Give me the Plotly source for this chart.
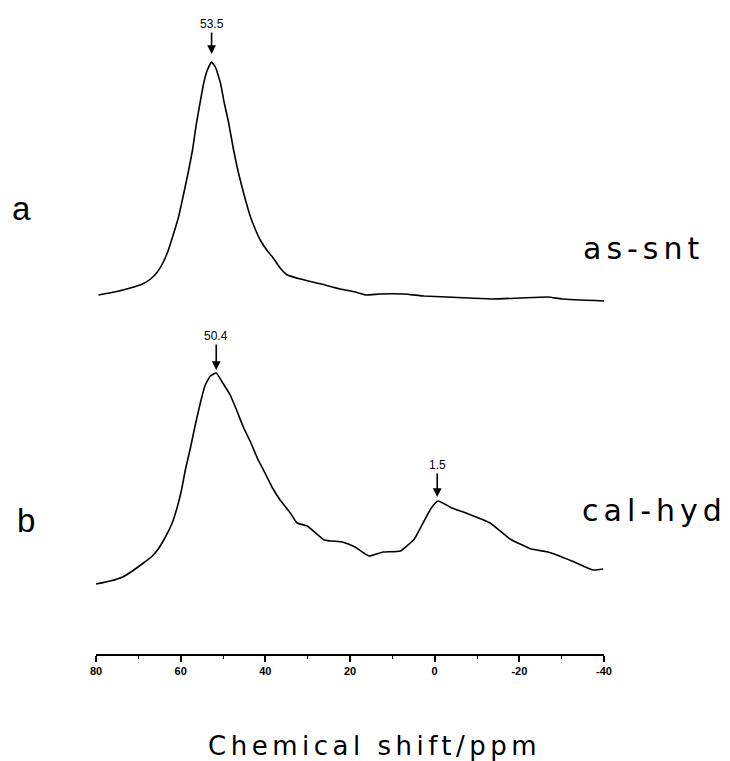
import plotly.graph_objects as go

# ---- data (chemical shift in ppm, intensity in arbitrary units) ----
shift_a = [79.4, 75.6, 71.9, 69.0, 67.1, 65.5, 64.1, 62.9, 61.7, 60.5,
           59.4, 58.2, 57.2, 56.3, 55.3, 54.6, 53.7, 52.7, 51.8, 50.6,
           49.7, 48.7, 47.5, 46.4, 45.2, 43.5, 42.4, 41.2, 39.5, 38.3,
           36.5, 34.8, 31.7, 26.8, 22.3, 18.8, 16.2, 12.9, 7.2, 2.5,
           -8.1, -13.8, -20.2, -26.8, -30.1, -40.0]
int_a = [6, 9, 13, 17, 22, 29, 39, 51, 67, 84,
         105, 129, 151, 177, 201, 217, 231, 239, 234, 218,
         198, 179, 151, 129, 109, 84, 72, 61, 50, 44,
         33, 26, 22, 17, 12, 9, 6, 7, 7, 5,
         3, 2, 3, 4, 2, 0]

shift_b = [80.0, 76.6, 73.7, 71.4, 68.8, 66.7, 65.3, 63.6, 62.0, 60.8,
           59.8, 58.9, 57.7, 56.5, 55.3, 54.2, 53.0, 51.6, 49.9, 48.3,
           46.8, 45.2, 43.5, 41.9, 40.2, 38.3, 36.5, 34.1, 32.5, 30.1,
           26.1, 21.8, 18.8, 15.5, 12.2, 8.1, 4.8, 2.5, 0.8, -0.8,
           -4.1, -7.4, -13.1, -17.8, -22.8, -26.8, -32.4, -37.4, -39.8]
int_b = [3, 6, 10, 16, 24, 31, 38, 50, 64, 80,
         97, 117, 139, 163, 185, 202, 211, 214, 203, 192,
         177, 160, 145, 129, 115, 99, 87, 74, 64, 61,
         47, 45, 40, 31, 35, 36, 48, 66, 79, 86,
         79, 74, 64, 48, 38, 35, 26, 17, 18]

tick_vals = [80, 60, 40, 20, 0, -20, -40]
tick_text = ["80", "60", "40", "20", "0", "-20", "-40"]

peak_labels = ["53.5", "50.4", "1.5"]
peak_shift = [52.7, 51.6, -0.6]
sample_names = ["as-snt", "cal-hyd"]
panel_letters = ["a", "b"]

# stacking offsets for the two spectra
offset_a = 353
offset_b = 67

W, H = 730, 761
ML, MR, MT, MB = 95.5, 126, 0, 107
PW = W - ML - MR
PH = H - MT - MB


def px(xp):
    return (xp - ML) / PW


def py(yp):
    return (H - MB - yp) / PH


fig = go.Figure()
for xs, ys, off in [(shift_a, int_a, offset_a), (shift_b, int_b, offset_b)]:
    fig.add_trace(go.Scatter(x=xs, y=[v + off for v in ys], mode="lines",
                             line=dict(color="black", width=1.6, shape="spline", smoothing=0.4),
                             showlegend=False, hoverinfo="skip"))

annotations = []
# peak markers with arrows
peak_tip_y = [max(int_a) + offset_a + 8, max(int_b) + offset_b + 3, 86 + offset_b + 4]
peak_ay = [-30, -34, -32]
for lab, xs, ys, ay in zip(peak_labels, peak_shift, peak_tip_y, peak_ay):
    annotations.append(dict(x=xs, y=ys, xref="x", yref="y", text=lab, showarrow=True,
                            ax=0, ay=ay, arrowhead=2, arrowsize=1.1, arrowwidth=1.6,
                            arrowcolor="black", standoff=0,
                            font=dict(family="Liberation Sans, Arial", size=12, color="black")))

# panel letters
for letter, (xp, yp) in zip(panel_letters, [(21, 208), (25, 520)]):
    annotations.append(dict(x=px(xp), y=py(yp), xref="paper", yref="paper", text=letter,
                            showarrow=False, xanchor="center", yanchor="middle",
                            font=dict(family="Liberation Sans, Arial", size=33, color="black")))

# sample names
for name, (xp, yp) in zip(sample_names, [(644, 248), (655, 510)]):
    annotations.append(dict(x=px(xp), y=py(yp), xref="paper", yref="paper",
                            text='<span style="letter-spacing:5px">' + name + '</span>',
                            showarrow=False, xanchor="center", yanchor="middle",
                            font=dict(family="DejaVu Sans", size=30, color="black")))

# axis title
annotations.append(dict(x=px(374), y=py(746), xref="paper", yref="paper",
                        text='<span style="letter-spacing:4.5px">Chemical shift/ppm</span>',
                        showarrow=False, xanchor="center", yanchor="middle",
                        font=dict(family="DejaVu Sans", size=26, color="black")))

fig.update_layout(
    width=W, height=H,
    margin=dict(l=ML, r=MR, t=MT, b=MB, pad=0),
    paper_bgcolor="white", plot_bgcolor="white",
    annotations=annotations,
    xaxis=dict(range=[80, -40], showgrid=False, zeroline=False,
               showline=True, linecolor="black", linewidth=1.6,
               ticks="outside", ticklen=6, tickwidth=1.6, tickcolor="black",
               tickvals=tick_vals, ticktext=["<b>" + t + "</b>" for t in tick_text],
               tickfont=dict(family="Liberation Sans, Arial", size=11, color="black"),
               minor=dict(dtick=10, ticks="outside", ticklen=3, tickwidth=1.4, tickcolor="black"),
               fixedrange=True),
    yaxis=dict(range=[0, PH], visible=False, showgrid=False, zeroline=False, fixedrange=True),
)

fig.write_html("out.html")
